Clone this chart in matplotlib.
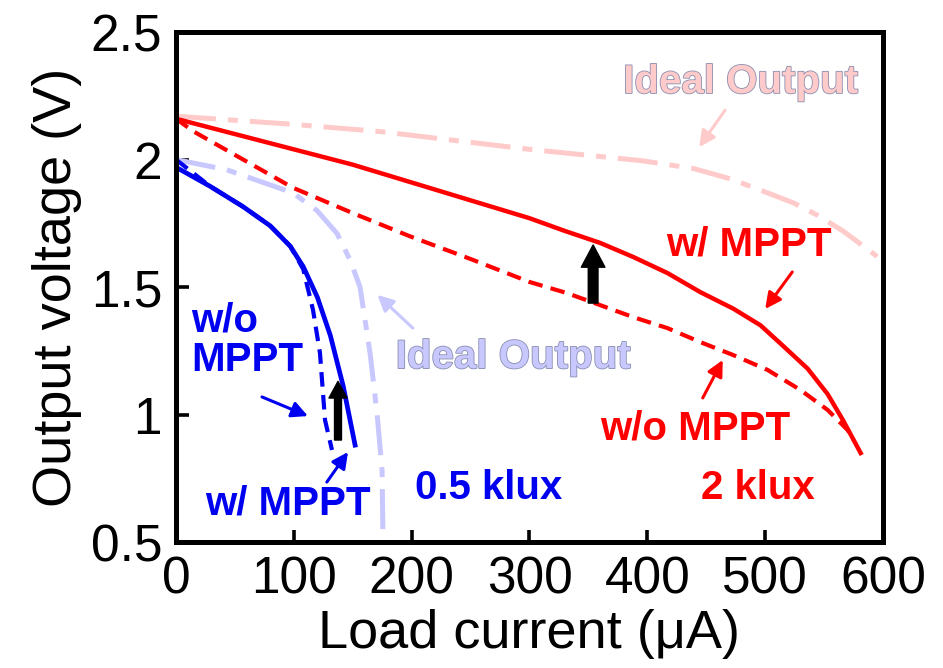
import matplotlib
matplotlib.use('Agg')
import matplotlib.pyplot as plt
import matplotlib.patheffects as pe
from matplotlib.ticker import FormatStrFormatter

plt.rcParams['font.family'] = ['Liberation Sans', 'DejaVu Sans']

# 2 klux - curvas
i_2k_mppt = [0, 50, 100, 150, 200, 250, 300, 330, 360, 388, 417, 445, 473, 496, 515, 536, 553, 566, 581]
v_2k_mppt = [2.16, 2.10, 2.04, 1.98, 1.91, 1.84, 1.77, 1.72, 1.673, 1.618, 1.555, 1.48, 1.415, 1.35, 1.27, 1.18, 1.08, 0.978, 0.849]

i_2k_nompt = [0, 15, 57, 99, 150, 198, 250, 300, 332, 360, 388, 417, 445, 473, 502, 530, 553, 570, 575]
v_2k_nompt = [2.16, 2.11, 2.00, 1.89, 1.79, 1.70, 1.61, 1.52, 1.476, 1.429, 1.382, 1.339, 1.284, 1.233, 1.175, 1.096, 1.018, 0.939, 0.90]

i_2k_ideal = [0, 94, 173, 300, 396, 439, 470, 496, 524, 545, 566, 595]
v_2k_ideal = [2.17, 2.14, 2.11, 2.04, 1.995, 1.965, 1.925, 1.88, 1.83, 1.78, 1.72, 1.62]

# 0.5 klux - curvas
i_05k_mppt = [0, 29, 57, 80, 97, 108, 120, 131, 142, 152]
v_05k_mppt = [1.97, 1.895, 1.815, 1.74, 1.66, 1.58, 1.46, 1.31, 1.11, 0.88]

i_05k_nompt = [0, 29, 57, 80, 97, 108, 116.3, 122.2, 126.5, 132.4]
v_05k_nompt = [2.00, 1.895, 1.815, 1.74, 1.66, 1.57, 1.41, 1.241, 0.978, 0.861]

i_05k_ideal = [0, 43, 99, 119.7, 136.7, 147.7, 156.2, 164.7, 170.6, 174.9, 175.7]
v_05k_ideal = [2.00, 1.96, 1.87, 1.80, 1.71, 1.606, 1.50, 1.241, 1.006, 0.782, 0.50]

x_ticks = [0, 100, 200, 300, 400, 500, 600]
y_ticks = [0.5, 1, 1.5, 2, 2.5]

red = '#ff0000'
blue = '#0000f0'
pink = '#ffcaca'
lblue = '#c8c8ff'

fig = plt.figure(figsize=(9.43, 6.68), dpi=100)
ax = fig.add_axes([0.1866, 0.1886, 0.7498, 0.7634])

# linhas ideais (traço-ponto)
ax.plot(i_2k_ideal, v_2k_ideal, color=pink, lw=3.6, dashes=(8, 2.4, 2, 2.4))
ax.plot(i_05k_ideal, v_05k_ideal, color=lblue, lw=3.6, dashes=(8, 2.4, 2, 2.4))

# sem MPPT (tracejado) e com MPPT (sólido)
ax.plot(i_2k_nompt, v_2k_nompt, color=red, lw=3.0, dashes=(3.5, 2))
ax.plot(i_2k_mppt, v_2k_mppt, color=red, lw=3.2)
ax.plot(i_05k_nompt, v_05k_nompt, color=blue, lw=3.0, dashes=(3.5, 2))
ax.plot(i_05k_mppt, v_05k_mppt, color=blue, lw=3.4)

# setas pretas de melhora
ax.annotate('', xy=(354, 1.665), xytext=(354, 1.437),
            arrowprops=dict(facecolor='black', edgecolor='black', width=7, headwidth=17, headlength=16, shrink=0))
ax.annotate('', xy=(137.5, 1.13), xytext=(137.5, 0.90),
            arrowprops=dict(facecolor='black', edgecolor='black', width=5, headwidth=13, headlength=12, shrink=0))

# textos
fs = 29
shadow = [pe.withStroke(linewidth=1.2, foreground='#8a8fb0')]
ax.text(479, 2.304, 'Ideal Output', color=pink, fontsize=fs, fontweight='bold', ha='center', va='center', path_effects=shadow)
ax.text(286, 1.225, 'Ideal Output', color=lblue, fontsize=fs, fontweight='bold', ha='center', va='center', path_effects=shadow)
ax.text(486, 1.665, 'w/ MPPT', color=red, fontsize=fs, fontweight='bold', ha='center', va='center')
ax.text(441, 0.947, 'w/o MPPT', color=red, fontsize=fs, fontweight='bold', ha='center', va='center')
ax.text(494, 0.712, '2 klux', color=red, fontsize=fs, fontweight='bold', ha='center', va='center')
ax.text(265, 0.712, '0.5 klux', color=blue, fontsize=fs, fontweight='bold', ha='center', va='center')
ax.text(13, 1.29, 'w/o\nMPPT', color=blue, fontsize=fs, fontweight='bold', ha='left', va='center', linespacing=1.05)
ax.text(95, 0.653, 'w/ MPPT', color=blue, fontsize=fs, fontweight='bold', ha='center', va='center')

# setas finas
def seta(x0, y0, x1, y1, cor):
    ax.annotate('', xy=(x1, y1), xytext=(x0, y0),
                arrowprops=dict(arrowstyle='-|>', color=cor, lw=2.2, mutation_scale=24, shrinkA=0, shrinkB=0))

seta(466, 2.194, 444, 2.049, pink)
seta(523, 1.559, 500, 1.414, red)
seta(447, 1.065, 464, 1.214, red)
seta(201, 1.339, 171, 1.469, lblue)
seta(73, 1.069, 112, 0.994, blue)
seta(128, 0.735, 146, 0.853, blue)

ax.set_xlim(0, 600)
ax.set_ylim(0.5, 2.5)
ax.set_xticks(x_ticks)
ax.set_yticks(y_ticks)
ax.yaxis.set_major_formatter(FormatStrFormatter('%g'))
ax.tick_params(direction='in', length=9, width=2.6, labelsize=37, pad=10)
for s in ax.spines.values():
    s.set_linewidth(3.6)

ax.set_xlabel('Load current (μA)', fontsize=39, labelpad=3)
ax.set_ylabel('Output voltage (V)', fontsize=39, labelpad=6)

fig.savefig('out.png', dpi=100)
